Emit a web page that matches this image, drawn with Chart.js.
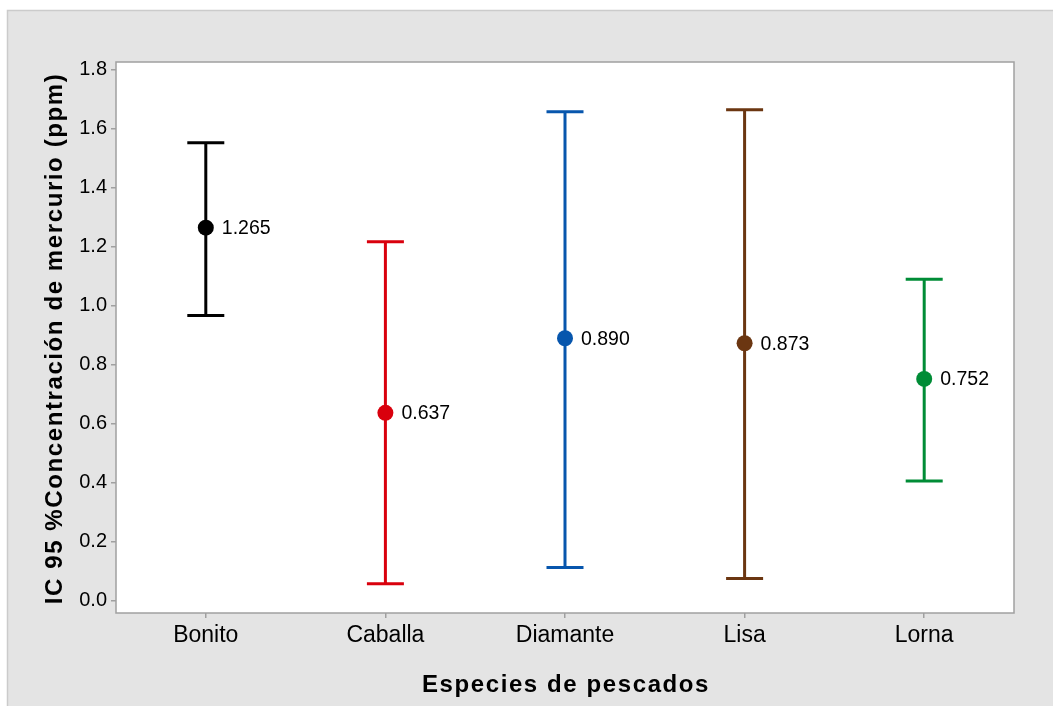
<!DOCTYPE html>
<html>
<head>
<meta charset="utf-8">
<script src="https://cdn.jsdelivr.net/npm/chart.js@4.4.1/dist/chart.umd.min.js"></script>
<style>
  html, body { margin: 0; padding: 0; background: #fff; }
  #wrap { width: 1053px; height: 706px; position: relative; }
</style>
</head>
<body>
<div id="wrap"><canvas id="c" width="1053" height="706"></canvas></div>
<script>
// Species and 95% confidence intervals for mercury concentration (ppm)
const species = ['Bonito', 'Caballa', 'Diamante', 'Lisa', 'Lorna'];
const means = [1.265, 0.637, 0.890, 0.873, 0.752];
const lower = [0.967, 0.057, 0.112, 0.075, 0.406];
const upper = [1.553, 1.217, 1.658, 1.665, 1.090];
const yTicks = [0.0, 0.2, 0.4, 0.6, 0.8, 1.0, 1.2, 1.4, 1.6, 1.8];
const colors = ['#000000', '#d9000d', '#0756ad', '#6b3611', '#008c36'];

const FONT = '"Liberation Sans", Arial, sans-serif';

const panelPlugin = {
  id: 'panel',
  beforeDraw(chart) {
    const ctx = chart.ctx, a = chart.chartArea;
    ctx.save();
    ctx.fillStyle = '#ffffff';
    ctx.fillRect(0, 0, chart.width, chart.height);
    ctx.fillStyle = '#e4e4e4';
    ctx.fillRect(7, 10, chart.width - 7, chart.height - 10);
    ctx.strokeStyle = '#cbcbcb';
    ctx.lineWidth = 1.5;
    ctx.beginPath();
    ctx.moveTo(7.5, chart.height);
    ctx.lineTo(7.5, 10.5);
    ctx.lineTo(chart.width, 10.5);
    ctx.stroke();
    ctx.fillStyle = '#ffffff';
    ctx.fillRect(a.left, a.top, a.right - a.left, a.bottom - a.top);
    ctx.restore();
  },
  beforeDatasetsDraw(chart) {
    const ctx = chart.ctx, a = chart.chartArea;
    const xs = chart.scales.x, ys = chart.scales.y;
    ctx.save();
    // plot frame
    ctx.strokeStyle = '#a0a0a0';
    ctx.lineWidth = 1.5;
    ctx.strokeRect(a.left, a.top, a.right - a.left, a.bottom - a.top);
    // interval whiskers with caps
    ctx.lineWidth = 3;
    ctx.lineCap = 'butt';
    const capHalf = 18.5;
    species.forEach((s, i) => {
      const x = xs.getPixelForValue(i);
      const yLo = ys.getPixelForValue(lower[i]);
      const yHi = ys.getPixelForValue(upper[i]);
      ctx.strokeStyle = colors[i];
      ctx.beginPath();
      ctx.moveTo(x, yLo); ctx.lineTo(x, yHi);
      ctx.moveTo(x - capHalf, yLo); ctx.lineTo(x + capHalf, yLo);
      ctx.moveTo(x - capHalf, yHi); ctx.lineTo(x + capHalf, yHi);
      ctx.stroke();
    });
    ctx.restore();
  },
  afterDatasetsDraw(chart) {
    const ctx = chart.ctx, a = chart.chartArea;
    const xs = chart.scales.x, ys = chart.scales.y;
    ctx.save();
    // mean value labels
    ctx.fillStyle = '#000';
    ctx.font = '19.5px ' + FONT;
    ctx.textAlign = 'left';
    ctx.textBaseline = 'middle';
    means.forEach((m, i) => {
      ctx.fillText(m.toFixed(3), xs.getPixelForValue(i) + 16, ys.getPixelForValue(m) + 1);
    });
    // axis titles
    ctx.font = 'bold 24px ' + FONT;
    ctx.letterSpacing = '1.6px';
    ctx.textAlign = 'center';
    ctx.textBaseline = 'middle';
    ctx.fillText('Especies de pescados', (a.left + a.right) / 2 + 1, 685);
    ctx.translate(55, (a.top + a.bottom) / 2 + 1);
    ctx.rotate(-Math.PI / 2);
    ctx.fillText('IC 95 %Concentración de mercurio (ppm)', 0, 0);
    ctx.restore();
  }
};

new Chart(document.getElementById('c'), {
  type: 'line',
  data: {
    labels: species,
    datasets: [{
      data: means,
      showLine: false,
      pointRadius: 8,
      pointHoverRadius: 8,
      pointBackgroundColor: colors,
      pointBorderColor: colors,
      pointBorderWidth: 0
    }]
  },
  options: {
    responsive: false,
    animation: false,
    events: [],
    layout: { padding: { left: 0, top: 62, right: 39, bottom: 0 } },
    plugins: { legend: { display: false }, tooltip: { enabled: false } },
    scales: {
      x: {
        type: 'category',
        offset: true,
        border: { display: false },
        grid: { drawOnChartArea: false, drawTicks: true, tickLength: 5, color: '#a0a0a0', lineWidth: 1.5, offset: false },
        ticks: { color: '#000', font: { family: FONT, size: 23 }, padding: 4, maxRotation: 0 },
        afterFit(scale) { scale.height = 93; }
      },
      y: {
        min: -0.042,
        max: 1.827,
        border: { display: false },
        grid: { drawOnChartArea: false, drawTicks: true, tickLength: 5, color: '#a0a0a0', lineWidth: 1.5 },
        ticks: {
          color: '#000',
          font: { family: FONT, size: 20 },
          padding: 4,
          callback: v => Number(v).toFixed(1)
        },
        afterBuildTicks(scale) { scale.ticks = yTicks.map(v => ({ value: v })); },
        afterFit(scale) { scale.width = 116; }
      }
    }
  },
  plugins: [panelPlugin]
});
</script>
</body>
</html>
